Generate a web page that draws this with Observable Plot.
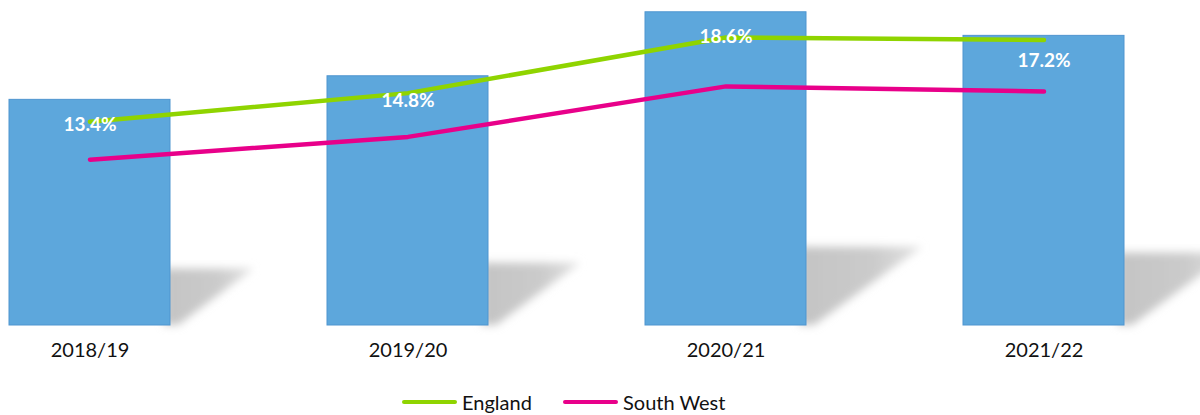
<!DOCTYPE html>
<html>
<head>
<meta charset="utf-8">
<script src="https://cdn.jsdelivr.net/npm/d3@7"></script>
<script src="https://cdn.jsdelivr.net/npm/@observablehq/plot@0.6"></script>
<style>
  html, body { margin: 0; padding: 0; background: #fff; }
  body { width: 1200px; height: 415px; overflow: hidden; font-family: Lato, "Open Sans", sans-serif; }
  #legend { position: relative; height: 40px; margin-top: 22px; font-size: 20px; color: #111; }
  .item { position: absolute; top: 0; display: flex; align-items: center; gap: 5px; }
  .sw { width: 55px; height: 4px; border-radius: 2px; }
</style>
</head>
<body>
<div id="chart"></div>
<div id="legend"></div>
<script>
const years = ["2018/19", "2019/20", "2020/21", "2021/22"];
const southWestBars = [13.4, 14.8, 18.6, 17.2];
const englandLine = [12.1, 13.8, 17.1, 16.95];
const southWestLine = [9.85, 11.2, 14.2, 13.9];
const seriesNames = ["England", "South West"];
const seriesColors = ["#8fd400", "#e8008a"];
const legendLeft = [402, 563];

const bars = years.map((year, i) => ({year, value: southWestBars[i]}));
const lines = [
  ...years.map((year, i) => ({year, value: englandLine[i], series: seriesNames[0]})),
  ...years.map((year, i) => ({year, value: southWestLine[i], series: seriesNames[1]}))
];

function shadowRender(index, scales, values) {
  const g = d3.create("svg:g");
  const defs = g.append("defs");
  defs.append("filter").attr("id", "shBlur").attr("x", "-30%").attr("y", "-30%").attr("width", "160%").attr("height", "160%")
    .append("feGaussianBlur").attr("stdDeviation", 4);
  const grad = defs.append("linearGradient").attr("id", "shGrad").attr("x1", 0).attr("x2", 1).attr("y1", 0).attr("y2", 0);
  grad.append("stop").attr("offset", "0%").attr("stop-color", "#c4c4c4");
  grad.append("stop").attr("offset", "60%").attr("stop-color", "#cbcbcb");
  grad.append("stop").attr("offset", "100%").attr("stop-color", "#e2e2e2");
  const bw = scales.x.bandwidth();
  for (const i of index) {
    const right = values.x[i] + bw;
    const top = Math.min(values.y1[i], values.y2[i]);
    const base = Math.max(values.y1[i], values.y2[i]);
    const h = base - top;
    const sh = h * 0.25, sw = h * 0.37;
    const d = `M${right - 6},${base - sh} L${right + sw},${base - sh} L${right + 8},${base} L${right - 6},${base} Z`;
    g.append("path").attr("d", d).attr("fill", "url(#shGrad)").attr("filter", "url(#shBlur)");
  }
  return g.node();
}

const plot = Plot.plot({
  width: 1200,
  height: 368,
  marginLeft: 0,
  marginRight: 67,
  marginTop: 0,
  marginBottom: 43,
  style: { fontFamily: "Lato, 'Open Sans', sans-serif", background: "transparent" },
  x: { domain: years, paddingInner: 0.494, paddingOuter: 0.027, label: null },
  y: { domain: [0, 19.3], axis: null },
  marks: [
    Plot.barY(bars, { x: "year", y: "value", fill: "#c8c8c8", render: shadowRender }),
    Plot.barY(bars, { x: "year", y: "value", fill: "#5da7dc", stroke: "#4f95d0", strokeWidth: 1 }),
    Plot.lineY(lines, { x: "year", y: "value", z: "series", stroke: d => seriesColors[seriesNames.indexOf(d.series)], strokeWidth: 4.5, strokeLinecap: "round", strokeLinejoin: "round" }),
    Plot.text(bars, { x: "year", y: "value", text: d => d.value.toFixed(1) + "%", dy: 25, fill: "white", fontWeight: "bold", fontSize: 19 }),
    Plot.axisX({ tickSize: 0, tickPadding: 17, fontSize: 20, fill: "#111", label: null })
  ]
});
document.getElementById("chart").appendChild(plot);

const legend = document.getElementById("legend");
seriesNames.forEach((name, i) => {
  const it = document.createElement("div");
  it.className = "item";
  it.style.left = legendLeft[i] + "px";
  const sw = document.createElement("div");
  sw.className = "sw";
  sw.style.background = seriesColors[i];
  const t = document.createElement("span");
  t.textContent = name;
  it.appendChild(sw); it.appendChild(t);
  legend.appendChild(it);
});
</script>
</body>
</html>
